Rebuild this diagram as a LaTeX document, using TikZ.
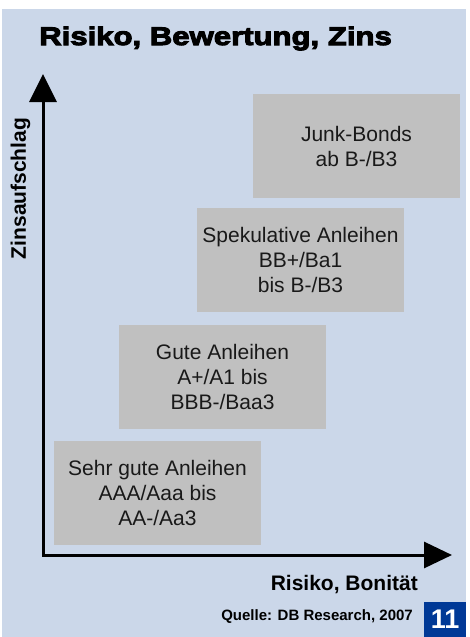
\documentclass[tikz,border=0pt]{standalone}
\usepackage{fontspec}
\setmainfont{Liberation Sans}
\newfontfamily\titlefont[FakeBold=4,FakeStretch=1.22]{Liberation Sans Bold}
\usetikzlibrary{arrows.meta}
\definecolor{panelblue}{RGB}{203,215,233}
\definecolor{boxgray}{RGB}{192,192,192}
\definecolor{tagblue}{RGB}{0,57,150}
\definecolor{txt}{RGB}{25,25,25}
\tikzset{
  band/.style={fill=boxgray, minimum width=207pt, minimum height=104pt, inner sep=0pt,
    align=center, text=txt, font=\fontsize{21}{25}\selectfont},
  axislabel/.style={inner sep=0pt, font=\bfseries\fontsize{21}{25}\selectfont},
  axisline/.style={line width=3pt, line join=miter,
    {Triangle[width=27pt,length=28pt]}-{Triangle[width=26pt,length=28pt]}}
}
\begin{document}
\begin{tikzpicture}[x=1pt,y=-1pt]
\useasboundingbox (0,0) rectangle (469,637);
\fill[white] (0,0) rectangle (469,637);
\fill[panelblue] (2,9) rectangle (466,637);
% title
\node[anchor=base west, inner sep=0pt, font=\titlefont\fontsize{25.5}{30}\selectfont] (title) at (39,45) {Risiko, Bewertung, Zins};
% boxes
\node[band] (junk) at (356.5,146) {Junk-Bonds\\ab B-/B3};
\node[band] (spek) at (300.5,260) {Spekulative Anleihen\\BB+/Ba1\\bis B-/B3};
\node[band] (gute) at (222.5,377) {Gute Anleihen\\A+/A1 bis\\BBB-/Baa3};
\node[band] (sehr) at (157.5,493) {Sehr gute Anleihen\\AAA/Aaa bis\\AA-/Aa3};
% axes
\coordinate (ytip) at (43,74);
\coordinate (origin) at (43,555);
\coordinate (xtip) at (452,555);
\draw[axisline] (ytip) -- (origin) -- (xtip);
\node[axislabel, rotate=90] (ylab) at (20.5,188.5) {Zinsaufschlag};
\node[axislabel, anchor=base east] (xlab) at (418,590) {Risiko, Bonität};
% source
\node[inner sep=0pt, anchor=base east, font=\bfseries\fontsize{15}{18}\selectfont] (src) at (413,620) {Quelle: DB Research, 2007};
\node[fill=tagblue, minimum width=42pt, minimum height=35pt, inner sep=0pt, anchor=north west,
  text=white, font=\bfseries\fontsize{27}{30}\selectfont] (page) at (424,602) {11};
\end{tikzpicture}
\end{document}
